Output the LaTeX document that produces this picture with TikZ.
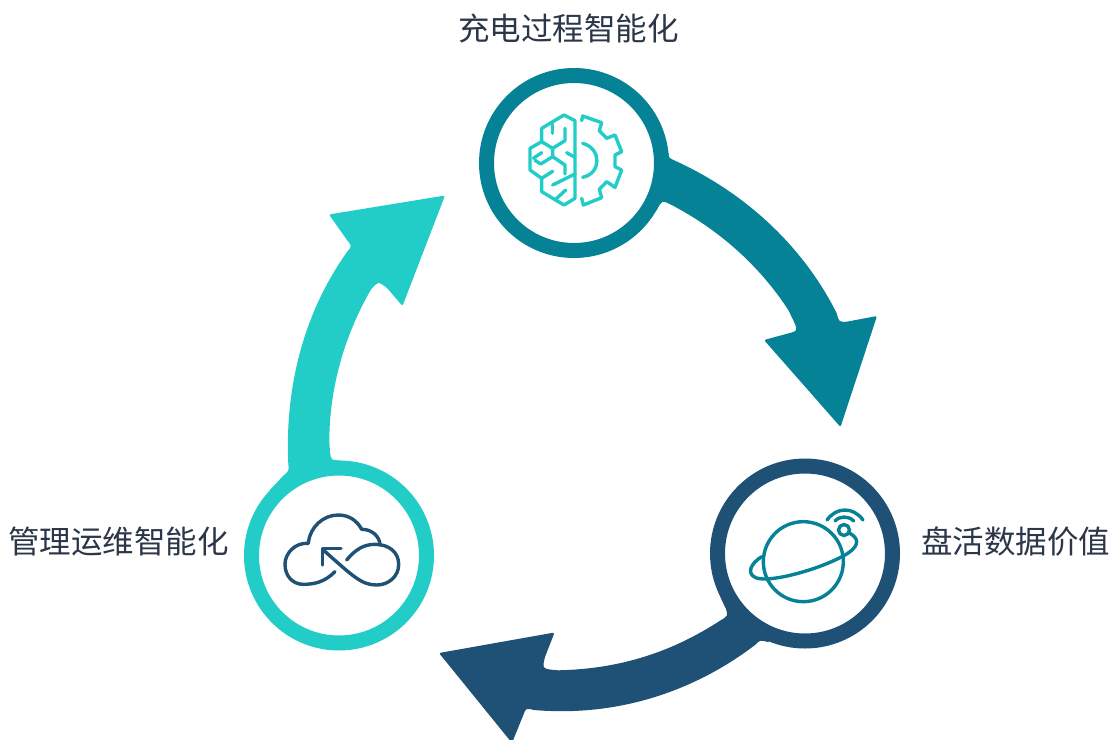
\documentclass[tikz,border=0pt]{standalone}
\usepackage{fontspec}
\setmainfont{Noto Sans CJK SC}
\definecolor{tealc}{HTML}{058296}
\definecolor{navyc}{HTML}{1F5075}
\definecolor{cyanc}{HTML}{22CDC8}
\definecolor{textc}{HTML}{2B3648}
\tikzset{
 hub/.style={circle,minimum size=175pt,inner sep=0pt,line width=15pt,fill=white},
 caption/.style={text=textc,font=\fontsize{31.5}{36}\selectfont,inner sep=0pt},
 glyph/.style={line width=3.4pt,line join=round,line cap=round},
 zoomed/.style={x=0.33333pt,y=-0.33333pt}
}
\begin{document}
\begin{tikzpicture}[x=1pt,y=-1pt]
\useasboundingbox (0,0) rectangle (1111,739);
% arrows
\fill[tealc] (620,160) -- (662,148) .. controls (667,151) .. (668.3,153.3)
 .. controls (669,158) .. (675,160.7)
 .. controls (744,192) and (802.7,245.3) .. (836.7,313.3)
 .. controls (839,322) .. (846.7,321.7)
 [rounded corners=2pt] -- (877,316) -- (840.5,427) -- (764,340) [rounded corners=0pt]
 -- (785,334.3) .. controls (798,331) .. (794,321.7)
 -- (788.3,310)
 .. controls (759.4,265.5) and (718.7,229.6) .. (671.7,205)
 .. controls (662,200) .. (656.7,210) -- (620,230) -- cycle;
\fill[navyc] (760,600) -- (717.7,590) -- (721.7,600) -- (726,609)
 .. controls (728,616) .. (720,620.7)
 .. controls (672,652) and (620,669) .. (558.3,670.3)
 .. controls (542,669) .. (545,657)
 [rounded corners=2pt] -- (554.5,632.5) -- (439,653) -- (512,743) [rounded corners=0pt]
 -- (523.3,715) .. controls (526,708) .. (534,710)
 .. controls (615,717) and (692,693) .. (755,645)
 .. controls (760,640) .. (768,642) -- (790,630) -- cycle;
\fill[cyanc] (270,490) -- (283,476) .. controls (289,471) .. (288.3,464)
 .. controls (285,395) and (300,318) .. (347,252)
 .. controls (352,246) .. (347,240)
 [rounded corners=2pt] -- (329,214.5) -- (445,195.5) -- (402.5,306) [rounded corners=0pt]
 -- (387.3,288.3) .. controls (378,281) .. (370.7,290)
 .. controls (344.2,336) and (329.3,388.7) .. (329.3,441.7)
 -- (330,451.7) .. controls (331,460.3) .. (340,460.3) -- (400,500) -- cycle;
% hubs
\node[hub,draw=tealc] (top) at (574,163) {};
\node[hub,draw=navyc] (right) at (805,553.5) {};
\node[hub,draw=cyanc] (left) at (339,555.5) {};
% captions
\node[caption] (t1) at (568.5,28.5) {充电过程智能化};
\node[caption] (t2) at (1015.5,541.5) {盘活数据价值};
\node[caption] (t3) at (118.5,541.5) {管理运维智能化};
% brain + gear
\begin{scope}[shift={(510,100)},zoomed,glyph,draw=cyanc]
\draw (195,62) -- (195,295) -- (162,315) -- (95,275) -- (95,235) -- (60,210) -- (60,145) -- (95,125) -- (95,85) -- (162,45) -- cycle;
\draw (128,72) -- (128,100);
\draw (165,85) -- (165,122) -- (128,145) -- (95,125);
\draw (128,145) -- (128,170) -- (92,192) -- (75,181);
\draw (70,175) -- (95,158);
\draw (128,170) -- (165,195) -- (165,222);
\draw (195,222) -- (128,255);
\draw (170,158) -- (195,172);
\draw (95,235) -- (128,214);
\draw (135,300) -- (167,270);
\draw (215,62) -- (218,48) -- (275,68) -- (268,92) -- (290,115) -- (315,105) -- (335,155) -- (315,165) -- (315,200) -- (335,210) -- (315,262) -- (290,245) -- (268,268) -- (275,293) -- (220,315) -- (215,295);
\draw (218,130) .. controls (275,145) and (275,220) .. (218,232);
\end{scope}
% planet
\begin{scope}[shift={(735,495)},zoomed,glyph,draw=tealc]
\draw (205,200) circle [radius=40pt];
\draw (80,185) .. controls (48,205) and (33,235) .. (62,248) .. controls (100,265) and (250,225) .. (330,180) .. controls (365,160) and (380,135) .. (345,115);
\draw (327,105) circle [radius=5.5pt];
\draw (300,78) .. controls (315,62) and (340,62) .. (356,78);
\draw (276,75) .. controls (305,35) and (355,35) .. (384,75);
\end{scope}
% cloud
\begin{scope}[shift={(275,505)},zoomed,glyph,draw=navyc]
\draw (180,200) .. controls (150,230) and (120,238) .. (85,238) .. controls (52,238) and (30,212) .. (30,178) .. controls (30,145) and (60,112) .. (100,115);
\draw (100,115) .. controls (105,65) and (145,30) .. (190,30) .. controls (220,30) and (245,45) .. (260,73);
\draw (260,73) .. controls (290,72) and (315,95) .. (315,120);
\draw (215,165) .. controls (240,135) and (265,118) .. (300,118) .. controls (340,118) and (371,140) .. (371,178) .. controls (371,215) and (340,240) .. (305,240) .. controls (260,240) and (235,215) .. (145,135);
\draw (142,180) -- (142,130) -- (198,130);
\end{scope}
\end{tikzpicture}
\end{document}
